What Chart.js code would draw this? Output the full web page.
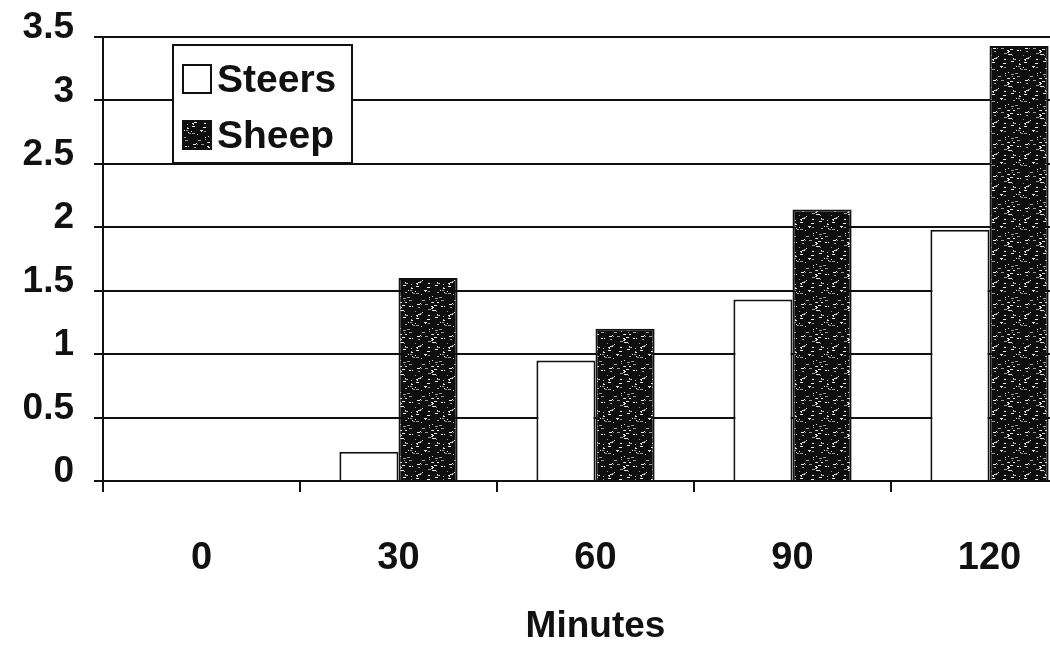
<!DOCTYPE html>
<html>
<head>
<meta charset="utf-8">
<script src="https://cdn.jsdelivr.net/npm/chart.js@4/dist/chart.umd.min.js"></script>
<style>
  html, body { margin: 0; padding: 0; background: #fff; overflow: hidden; }
  #wrap { width: 1090px; height: 651px; }
</style>
</head>
<body>
<div id="wrap"><canvas id="chart" width="1090" height="651"></canvas></div>
<script>
// Time points (minutes) and the two series
const minutes = ['0', '30', '60', '90', '120'];
const steers = [0, 0.23, 0.95, 1.43, 1.98];
const sheep = [0, 1.6, 1.2, 2.14, 3.43];
const yMin = 0, yMax = 3.5, yStep = 0.5;

const INK = '#111';
const FONT = '"Liberation Sans", Arial, sans-serif';

// Dark speckled fill for the sheep bars: near-black tile with short light flecks.
// Uses a fixed LCG seed so the texture is the same on every load.
function speckle() {
  const c = document.createElement('canvas');
  c.width = 32; c.height = 32;
  const g = c.getContext('2d');
  g.fillStyle = '#0e0e0e';
  g.fillRect(0, 0, 32, 32);
  let s = 11;
  const rnd = () => (s = (s * 1103515245 + 12345) % 2147483648) / 2147483648;
  for (let i = 0; i < 55; i++) {
    const x = Math.floor(rnd() * 32), y = Math.floor(rnd() * 32);
    g.fillStyle = rnd() < 0.5 ? '#e6e6e6' : '#9a9a9a';
    g.fillRect(x, y, 1 + Math.floor(rnd() * 3), 1);
  }
  return g.createPattern(c, 'repeat');
}

const sheepFill = speckle();

// Boxed legend sitting inside the plot area, upper left
const boxLegend = {
  id: 'boxLegend',
  afterDraw(chart) {
    const ctx = chart.ctx;
    const x = 173, y = 45, w = 179, h = 118;
    ctx.save();
    ctx.fillStyle = '#fff';
    ctx.fillRect(x, y, w, h);
    ctx.lineWidth = 2;
    ctx.strokeStyle = INK;
    ctx.strokeRect(x, y, w, h);
    ctx.font = 'bold 39px ' + FONT;
    ctx.textBaseline = 'middle';
    chart.data.datasets.forEach((ds, i) => {
      const cy = 79 + i * 56;
      ctx.fillStyle = ds.backgroundColor;
      ctx.fillRect(183, cy - 14, 28, 28);
      ctx.strokeStyle = INK;
      ctx.lineWidth = 2;
      ctx.strokeRect(183, cy - 14, 28, 28);
      ctx.fillStyle = INK;
      ctx.fillText(ds.label, 217, cy + 2);
    });
    ctx.restore();
  }
};

new Chart(document.getElementById('chart'), {
  type: 'bar',
  data: {
    labels: minutes,
    datasets: [
      { label: 'Steers', data: steers, backgroundColor: '#fff', borderColor: INK, borderWidth: 2 },
      { label: 'Sheep', data: sheep, backgroundColor: sheepFill, borderColor: INK, borderWidth: 2 }
    ]
  },
  options: {
    responsive: false,
    animation: false,
    layout: { padding: { top: 37, right: 2, left: 0, bottom: 0 } },
    datasets: { bar: { categoryPercentage: 0.6, barPercentage: 1.0 } },
    plugins: { legend: { display: false }, tooltip: { enabled: false } },
    scales: {
      x: {
        offset: true,
        grid: { offset: true, drawOnChartArea: false, color: INK, lineWidth: 2, tickLength: 11 },
        border: { display: true, color: INK, width: 2 },
        ticks: { color: INK, padding: 44, font: { family: FONT, size: 38, weight: 'bold' } },
        title: {
          display: true, text: 'Minutes', color: INK,
          padding: { top: 0, bottom: 2 },
          font: { family: FONT, size: 37, weight: 'bold' }
        },
        afterFit(scale) { scale.height = 170; }
      },
      y: {
        min: yMin, max: yMax,
        grid: { color: INK, lineWidth: 2, tickLength: 9 },
        border: { display: true, color: INK, width: 2 },
        ticks: {
          stepSize: yStep, color: INK, padding: 20, labelOffset: -9,
          font: { family: FONT, size: 37, weight: 'bold' },
          callback: (v) => String(v)
        },
        // labels may run above the plot top; keep the plot top at the layout padding
        afterFit(scale) {
          scale.width = 103;
          scale.paddingTop = 0;
          scale.paddingBottom = 0;
        }
      }
    }
  },
  plugins: [boxLegend]
});
</script>
</body>
</html>
